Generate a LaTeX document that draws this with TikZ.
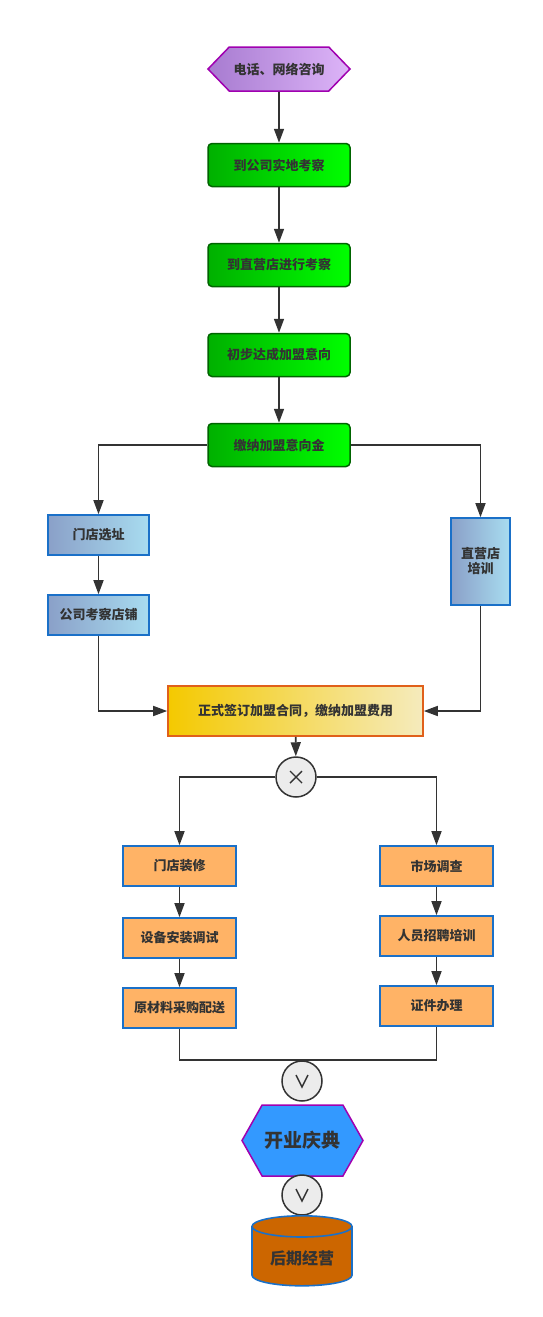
\documentclass[tikz,border=0pt]{standalone}
\usepackage{fontspec}
\setmainfont{Noto Sans CJK SC}
\usetikzlibrary{shapes.symbols,shapes.geometric,arrows.meta}

\definecolor{linegray}{HTML}{333333}
\definecolor{txtgray}{HTML}{333333}
\definecolor{purpleL}{HTML}{A77BD0}
\definecolor{purpleR}{HTML}{DDB4F8}
\definecolor{purpleD}{HTML}{A000B0}
\definecolor{greenL}{HTML}{00B000}
\definecolor{greenR}{HTML}{00FF00}
\definecolor{greenD}{HTML}{006400}
\definecolor{blueL}{HTML}{8AA0C8}
\definecolor{blueR}{HTML}{A8DCF0}
\definecolor{blueD}{HTML}{1A70C8}
\definecolor{yellowL}{HTML}{F4C900}
\definecolor{yellowR}{HTML}{F5EBBD}
\definecolor{yellowD}{HTML}{E0601A}
\definecolor{orangeF}{HTML}{FFB366}
\definecolor{skyF}{HTML}{3399FF}
\definecolor{barrelF}{HTML}{CC6600}
\definecolor{circF}{HTML}{ECECEC}

\begin{document}
\begin{tikzpicture}[x=1pt,y=-1pt,
    font=\fontsize{13}{15}\selectfont\bfseries, text=txtgray,
    arr/.style={draw=linegray, line width=1.6pt, -{Triangle[length=14pt,width=10pt]}},
    link/.style={draw=linegray, line width=1.6pt},
    hexbox/.style={signal, signal to=east and west, signal pointer angle=92,
        minimum width=142pt, minimum height=44pt, inner sep=0pt,
        left color=purpleL, right color=purpleR, draw=purpleD, line width=1.5pt},
    greenbox/.style={rectangle, rounded corners=4pt, minimum width=142pt, minimum height=43pt,
        left color=greenL, right color=greenR, draw=greenD, line width=1.5pt},
    bluebox/.style={rectangle, minimum width=101pt, minimum height=40pt, align=center,
        left color=blueL, right color=blueR, draw=blueD, line width=1.6pt},
    signbox/.style={rectangle, minimum width=255pt, minimum height=50pt,
        left color=yellowL, right color=yellowR, draw=yellowD, line width=1.6pt},
    workbox/.style={rectangle, minimum width=113pt, minimum height=40pt,
        fill=orangeF, draw=blueD, line width=1.6pt},
    gate/.style={circle, minimum size=40pt, inner sep=0pt, fill=circF, draw=linegray,
        line width=1.5pt},
    crossmark/.style={path picture={
        \draw[linegray, line width=1.4pt] ([shift={(-6,-6)}]path picture bounding box.center)
            -- ([shift={(6,6)}]path picture bounding box.center)
            ([shift={(-6,6)}]path picture bounding box.center)
            -- ([shift={(6,-6)}]path picture bounding box.center);}},
    veemark/.style={path picture={
        \draw[linegray, line width=1.4pt] ([shift={(-6,-6)}]path picture bounding box.center)
            -- ([shift={(0,6)}]path picture bounding box.center)
            -- ([shift={(6,-6)}]path picture bounding box.center);}},
    ]
\useasboundingbox (0,0) rectangle (542,1317);

\node[hexbox] (consult) at (279,69) {电话、网络咨询};
\node[greenbox] (visit) at (279,165) {到公司实地考察};
\node[greenbox] (store) at (279,265) {到直营店进行考察};
\node[greenbox] (intent) at (279,355) {初步达成加盟意向};
\node[greenbox] (deposit) at (279,445) {缴纳加盟意向金};

\node[bluebox] (site) at (98.5,535) {门店选址};
\node[bluebox] (inspect) at (98.5,615) {公司考察店铺};
\node[bluebox, minimum width=59pt, minimum height=87pt] (train) at (480.5,561.5) {直营店\\培训};

\node[signbox] (contract) at (295.5,711) {正式签订加盟合同，缴纳加盟费用};
\node[gate, crossmark] (split) at (296,777) {};

\node[workbox] (deco) at (179.5,866) {门店装修};
\node[workbox] (equip) at (179.5,938) {设备安装调试};
\node[workbox] (material) at (179.5,1008) {原材料采购配送};
\node[workbox] (market) at (436.5,866) {市场调查};
\node[workbox] (staff) at (436.5,936) {人员招聘培训};
\node[workbox] (license) at (436.5,1006) {证件办理};

\node[gate, veemark] (joinA) at (302,1081) {};
\node[signal, signal to=east and west, signal pointer angle=121, minimum width=121pt,
    minimum height=71pt, inner sep=0pt, fill=skyF, draw=purpleD, line width=1.5pt,
    font=\fontsize{19}{21}\selectfont\bfseries] (opening) at (302.5,1140.5) {开业庆典};
\node[gate, veemark] (joinB) at (302,1195) {};
\node[cylinder, shape border rotate=90, aspect=0.3, minimum width=100pt, minimum height=70pt,
    fill=barrelF, draw=blueD, line width=1.6pt, anchor=north,
    font=\fontsize{16}{18}\selectfont\bfseries] (later) at (302,1215) {后期经营};

\draw[arr] (consult) -- (visit);
\draw[arr] (visit) -- (store);
\draw[arr] (store) -- (intent);
\draw[arr] (intent) -- (deposit);
\draw[arr] (deposit.west) -| (site.north);
\draw[arr] (deposit.east) -| (train.north);
\draw[arr] (site) -- (inspect);
\draw[arr] (inspect.south) |- (contract.west);
\draw[arr] (train.south) |- (contract.east);
\draw[arr] (contract) -- (split);
\draw[arr] (split.west) -| (deco.north);
\draw[arr] (split.east) -| (market.north);
\draw[arr] (deco) -- (equip);
\draw[arr] (equip) -- (material);
\draw[arr] (market) -- (staff);
\draw[arr] (staff) -- (license);
\draw[link] (material.south) |- (joinA.north) -| (license.south);
\end{tikzpicture}
\end{document}
